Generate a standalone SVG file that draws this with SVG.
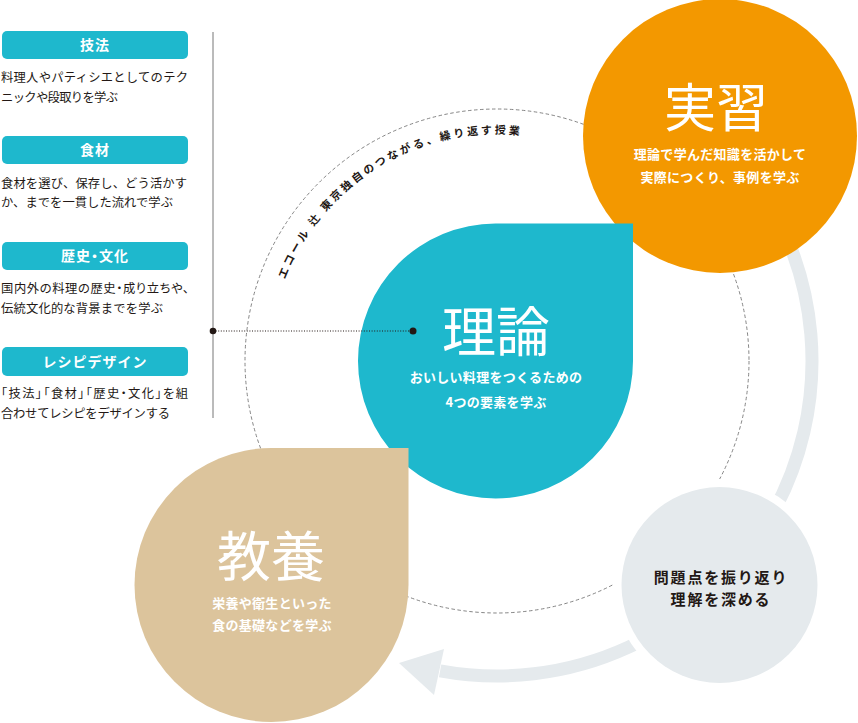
<svg xmlns="http://www.w3.org/2000/svg" width="858" height="723" viewBox="0 0 858 723">
<style>
.jp{font-family:"Noto Sans CJK JP","Noto Sans",sans-serif}
.head{font-size:14px;font-weight:700;fill:#fff;letter-spacing:1px;text-anchor:middle}
.desc{font-size:12.3px;fill:#231815}
.palt{font-feature-settings:"palt" 1}
.title{font-weight:400;fill:#fff;text-anchor:middle}
.sub{font-size:13px;font-weight:700;fill:#fff;text-anchor:middle;letter-spacing:0.3px}
.gsub{font-size:15px;font-weight:700;fill:#231815;text-anchor:middle;letter-spacing:1.8px}
.arc{font-size:11px;font-weight:700;fill:#231815;letter-spacing:2.7px}
.bar{fill:#1eb8cd}
</style>
<defs>
<path id="arcPath" d="M 277.7 302.2 A 227 227 0 0 1 610.5 164.4"/>
</defs>
<rect width="858" height="723" fill="#fff"/>

<g id="connectors">
<circle cx="497" cy="361" r="252" fill="none" stroke="#777" stroke-width="0.9" stroke-dasharray="3.5 2.5"/>
<path d="M 738.3 158.5 A 315 315 0 0 1 440.1 670.8" fill="none" stroke="#e5eaed" stroke-width="13"/>
<polygon points="399,663 444,649 434,695" fill="#e5eaed"/>
</g>

<g id="node-jisshu">
<circle cx="720" cy="136" r="137" fill="#f39800"/>
<text class="jp title" x="716" y="127" font-size="52">実習</text>
<text class="jp sub" x="720" y="159">理論で学んだ知識を活かして</text>
<text class="jp sub" x="720" y="182">実際につくり、事例を学ぶ</text>
</g>

<g id="node-riron">
<path d="M 633 223.5 L 633 361 A 137.5 137.5 0 1 1 495.5 223.5 Z" fill="#1eb8cd"/>
<text class="jp title" x="496" y="352" font-size="54">理論</text>
<text class="jp sub" x="496" y="382">おいしい料理をつくるための</text>
<text class="jp sub" x="496" y="407">4つの要素を学ぶ</text>
</g>

<g id="node-kyouyou">
<path d="M 408.5 448 L 408.5 585 A 137 137 0 1 1 271.5 448 Z" fill="#dcc49c"/>
<text class="jp title" x="271" y="577" font-size="54">教養</text>
<text class="jp sub" x="272" y="608">栄養や衛生といった</text>
<text class="jp sub" x="272" y="630">食の基礎などを学ぶ</text>
</g>

<g id="node-review">
<circle cx="719.5" cy="585" r="106" fill="#fff"/>
<circle cx="719.5" cy="585" r="98" fill="#e5eaed"/>
<text class="jp gsub" x="721" y="583">問題点を振り返り</text>
<text class="jp gsub" x="721" y="605">理解を深める</text>
</g>

<g id="arc-label">
<text class="jp arc"><textPath href="#arcPath" startOffset="24">エコール 辻 東京独自のつながる、繰り返す授業</textPath></text>
</g>

<g id="legend">
<line x1="213" y1="32" x2="213" y2="418" stroke="#777" stroke-width="1"/>
<line x1="213" y1="331" x2="413" y2="331" stroke="#231815" stroke-width="1.2" stroke-dasharray="1 1.6"/>
<circle cx="213" cy="331" r="3.3" fill="#231815"/>
<circle cx="413" cy="331" r="3.5" fill="#231815"/>

<g id="item-gihou">
<rect class="bar" x="2" y="31" width="186" height="28" rx="5"/>
<text class="jp head" x="95" y="50">技法</text>
<text class="jp desc" x="1" y="81.5" textLength="187" lengthAdjust="spacing">料理人やパティシエとしてのテク</text>
<text class="jp desc" x="1" y="101.5" textLength="117" lengthAdjust="spacing">ニックや段取りを学ぶ</text>
</g>
<g id="item-shokuzai">
<rect class="bar" x="2" y="136" width="186" height="28" rx="5"/>
<text class="jp head" x="95" y="155">食材</text>
<text class="jp desc" x="1" y="187.5" textLength="186" lengthAdjust="spacing">食材を選び、保存し、どう活かす</text>
<text class="jp desc" x="1" y="206.5" textLength="172" lengthAdjust="spacing">か、までを一貫した流れで学ぶ</text>
</g>
<g id="item-rekishi">
<rect class="bar" x="2" y="242" width="186" height="28" rx="5"/>
<text class="jp head palt" x="95" y="261">歴史・文化</text>
<text class="jp desc palt" x="1" y="292.5" textLength="188" lengthAdjust="spacing">国内外の料理の歴史・成り立ちや、</text>
<text class="jp desc" x="1" y="312.5" textLength="162" lengthAdjust="spacing">伝統文化的な背景までを学ぶ</text>
</g>
<g id="item-recipe">
<rect class="bar" x="2" y="347" width="186" height="29" rx="5"/>
<text class="jp head" x="95" y="366.5">レシピデザイン</text>
<text class="jp desc palt" x="1" y="397.5" textLength="187" lengthAdjust="spacing">「技法」「食材」「歴史・文化」を組</text>
<text class="jp desc" x="1" y="417.5" textLength="169" lengthAdjust="spacing">合わせてレシピをデザインする</text>
</g>
</g>
</svg>
